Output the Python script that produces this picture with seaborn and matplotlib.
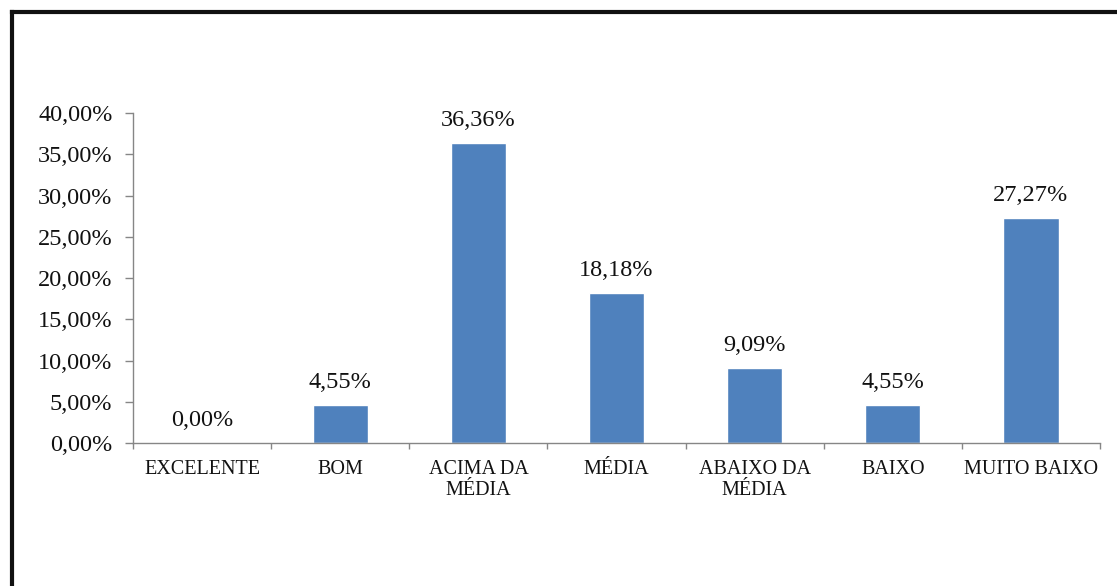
import matplotlib
matplotlib.use("Agg")
import matplotlib.pyplot as plt
from matplotlib.lines import Line2D
import seaborn as sns
import pandas as pd

categories = ["EXCELENTE", "BOM", "ACIMA DA\nMÉDIA", "MÉDIA",
              "ABAIXO DA\nMÉDIA", "BAIXO", "MUITO BAIXO"]
percentages = [0.00, 4.55, 36.36, 18.18, 9.09, 4.55, 27.27]
y_ticks = [0, 5, 10, 15, 20, 25, 30, 35, 40]

sns.set_theme(style="white")
plt.rcParams["font.family"] = ["Liberation Serif", "DejaVu Serif"]

df = pd.DataFrame({"categoria": categories, "percentual": percentages})

fig = plt.figure(figsize=(11.17, 5.86), dpi=100)
ax = fig.add_axes([0.1191, 0.2440, 0.8657, 0.5631])

sns.barplot(data=df, x="categoria", y="percentual", color="#4F81BD",
            saturation=1, width=0.4, ax=ax)

ax.set_ylim(0, 40)
ax.set_xlim(-0.5, len(categories) - 0.5)
ax.set_yticks(y_ticks)
ax.set_yticklabels([f"{v:.2f}%".replace(".", ",") for v in y_ticks],
                   fontsize=17.5, color="#111111")
ax.set_xlabel("")
ax.set_ylabel("")

# category labels centred on bars, tick marks between categories
ax.tick_params(axis="x", which="major", length=0, pad=12)
for lbl in ax.get_xticklabels():
    lbl.set_fontsize(14.5)
    lbl.set_color("#111111")
    lbl.set_linespacing(1.15)
ax.set_xticks([i - 0.5 for i in range(len(categories) + 1)], minor=True)
ax.tick_params(axis="x", which="minor", direction="out", length=4.5,
               width=1, color="#868686", bottom=True)
ax.tick_params(axis="y", direction="out", length=5.8, width=1,
               color="#868686", pad=9, left=True)

for side in ["top", "right"]:
    ax.spines[side].set_visible(False)
for side in ["left", "bottom"]:
    ax.spines[side].set_color("#868686")
    ax.spines[side].set_linewidth(1)

ax.bar_label(ax.containers[0],
             labels=[f"{v:.2f}%".replace(".", ",") for v in percentages],
             padding=9, fontsize=17.5, color="#111111")

# outer frame of the chart area
w, h = fig.get_size_inches() * fig.dpi
fx = 11.5 / w
fy = 1 - 12 / h
fig.add_artist(Line2D([fx, fx], [0, fy], transform=fig.transFigure,
                      color="#111111", lw=3, solid_capstyle="projecting"))
fig.add_artist(Line2D([fx, 1.0], [fy, fy], transform=fig.transFigure,
                      color="#111111", lw=3, solid_capstyle="projecting"))

fig.savefig("out.png", dpi=100, facecolor="white")
